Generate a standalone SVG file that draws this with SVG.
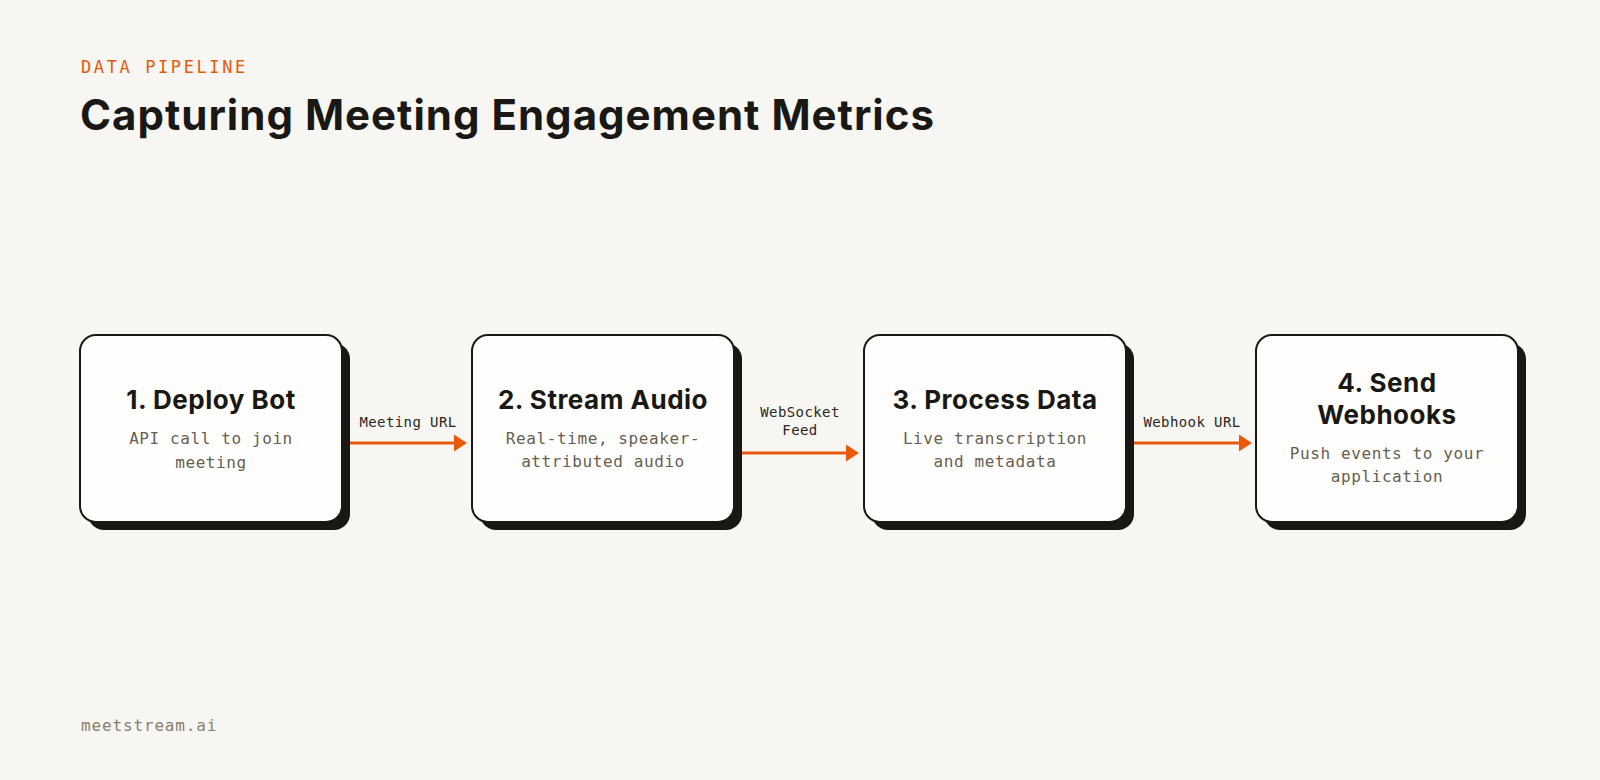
<svg xmlns="http://www.w3.org/2000/svg" width="1600" height="780" viewBox="0 0 1600 780">
  <style>
    .eyebrow { font-family: "DejaVu Sans Mono", "Liberation Mono", monospace; font-size: 17px; letter-spacing: 2.6px; fill: #e8590c; }
    .title { font-family: Inter, "Noto Sans", sans-serif; font-weight: 700; font-size: 42px; fill: #1a1814; letter-spacing: 1px; }
    .box { fill: #fffefc; stroke: #1a1814; stroke-width: 2; }
    .shadow { fill: #1a1814; }
    .ntitle { font-family: Inter, "Noto Sans", sans-serif; font-weight: 700; font-size: 26px; fill: #1a1814; text-anchor: middle; letter-spacing: 0.5px; }
    .ndesc { font-family: "DejaVu Sans Mono", "Liberation Mono", monospace; font-size: 16px; letter-spacing: 0.6px; fill: #655e55; text-anchor: middle; }
    .edge { stroke: #e8590c; stroke-width: 3; fill: none; }
    .elabel { font-family: "DejaVu Sans Mono", "Liberation Mono", monospace; font-size: 14px; letter-spacing: 0.4px; fill: #2b2823; text-anchor: middle; }
    .footer { font-family: "DejaVu Sans Mono", "Liberation Mono", monospace; font-size: 16px; letter-spacing: 0.85px; fill: #8a8070; }
  </style>
  <defs>
    <marker id="arrow" markerUnits="userSpaceOnUse" markerWidth="14" markerHeight="18" refX="0" refY="8.5" orient="auto">
      <path d="M0,0 L13,8.5 L0,17 Z" fill="#e8590c"/>
    </marker>
  </defs>
  <rect x="0" y="0" width="1600" height="780" fill="#f7f6f2"/>

  <g id="header">
    <text class="eyebrow" x="81" y="73">DATA PIPELINE</text>
    <text class="title" x="80" y="130">Capturing Meeting Engagement Metrics</text>
  </g>

  <g id="connectors">
    <g id="edge-1-2">
      <line class="edge" x1="350" y1="443" x2="454" y2="443" marker-end="url(#arrow)"/>
      <text class="elabel" x="408" y="427">Meeting URL</text>
    </g>
    <g id="edge-2-3">
      <line class="edge" x1="742" y1="453" x2="846" y2="453" marker-end="url(#arrow)"/>
      <text class="elabel" x="800" y="417">WebSocket</text>
      <text class="elabel" x="800" y="435">Feed</text>
    </g>
    <g id="edge-3-4">
      <line class="edge" x1="1134" y1="443" x2="1239" y2="443" marker-end="url(#arrow)"/>
      <text class="elabel" x="1192" y="427">Webhook URL</text>
    </g>
  </g>

  <g id="node-1">
    <rect class="shadow" x="88" y="343" width="262" height="187" rx="16"/>
    <rect class="box" x="80" y="335" width="262" height="187" rx="16"/>
    <text class="ntitle" x="211" y="409">1. Deploy Bot</text>
    <text class="ndesc" x="211" y="444">API call to join</text>
    <text class="ndesc" x="211" y="468">meeting</text>
  </g>

  <g id="node-2">
    <rect class="shadow" x="480" y="343" width="262" height="187" rx="16"/>
    <rect class="box" x="472" y="335" width="262" height="187" rx="16"/>
    <text class="ntitle" x="603" y="409">2. Stream Audio</text>
    <text class="ndesc" x="603" y="444">Real-time, speaker-</text>
    <text class="ndesc" x="603" y="467">attributed audio</text>
  </g>

  <g id="node-3">
    <rect class="shadow" x="872" y="343" width="262" height="187" rx="16"/>
    <rect class="box" x="864" y="335" width="262" height="187" rx="16"/>
    <text class="ntitle" x="995" y="409">3. Process Data</text>
    <text class="ndesc" x="995" y="444">Live transcription</text>
    <text class="ndesc" x="995" y="467">and metadata</text>
  </g>

  <g id="node-4">
    <rect class="shadow" x="1264" y="343" width="262" height="187" rx="16"/>
    <rect class="box" x="1256" y="335" width="262" height="187" rx="16"/>
    <text class="ntitle" x="1387" y="392">4. Send</text>
    <text class="ntitle" x="1387" y="424">Webhooks</text>
    <text class="ndesc" x="1387" y="459">Push events to your</text>
    <text class="ndesc" x="1387" y="482">application</text>
  </g>

  <g id="footer">
    <text class="footer" x="81" y="731">meetstream.ai</text>
  </g>
</svg>
